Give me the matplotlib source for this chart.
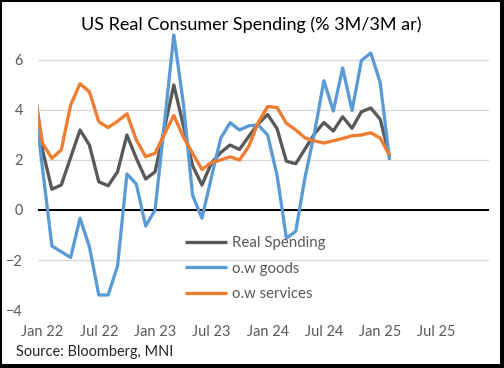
import numpy as np
import matplotlib
matplotlib.use("Agg")
import matplotlib.pyplot as plt
from matplotlib.patches import Rectangle

plt.rcParams["font.family"] = ["Lato", "DejaVu Sans"]

# monthly values, Dec 21 .. Feb 25 (Dec 21 sits just left of the axis and is clipped)
spending = [5.2, 2.4, 0.83, 1.0, 2.1, 3.2, 2.6, 1.13, 0.97, 1.53, 3.0,
            2.07, 1.24, 1.53, 3.27, 5.0, 3.4, 1.77, 1.0, 1.87, 2.3,
            2.6, 2.42, 2.95, 3.45, 3.82, 3.26, 1.95, 1.85, 2.45, 3.05,
            3.5, 3.16, 3.73, 3.27, 3.93, 4.08, 3.63, 2.13]
goods = [4.86, 1.67, -1.44, -1.67, -1.9, -0.33, -1.47, -3.4, -3.4, -2.24, 1.44,
         1.04, -0.64, 0.0, 3.47, 7.0, 4.3, 0.6, -0.33, 1.3, 2.87,
         3.49, 3.2, 3.37, 3.4, 3.0, 1.4, -1.13, -0.85, 1.33, 3.1,
         5.17, 3.96, 5.68, 3.98, 5.98, 6.28, 5.1, 2.0]
services = [5.1, 2.67, 2.07, 2.4, 4.2, 5.05, 4.73, 3.53, 3.3, 3.55, 3.85,
            2.8, 2.13, 2.27, 3.04, 3.78, 2.93, 2.27, 1.62, 1.9, 2.0,
            2.13, 2.0, 2.55, 3.5, 4.14, 4.1, 3.47, 3.2, 2.88, 2.76,
            2.68, 2.77, 2.86, 2.97, 3.0, 3.09, 2.88, 2.18]
tick_labels = ["Jan 22", "Jul 22", "Jan 23", "Jul 23",
               "Jan 24", "Jul 24", "Jan 25", "Jul 25"]

x = np.arange(len(spending)) - 1  # 0 = Jan 22

W, H = 504, 368
fig = plt.figure(figsize=(W / 72, H / 72), dpi=72)
ax = fig.add_axes([38 / W, 58 / H, (489 - 38) / W, (338 - 58) / H])

kw = dict(lw=3.3, solid_joinstyle="round", solid_capstyle="butt")
ax.plot(x, spending, color="#595959", label="Real Spending", **kw)
ax.plot(x, goods, color="#5B9BD5", label="o.w goods", **kw)
ax.plot(x, services, color="#ED7D31", label="o.w services", **kw)

ax.axhline(0, color="black", lw=2, zorder=1.5)
ax.set_xlim(-0.48, 47.6)
ax.set_ylim(-4, 7.2)
ax.set_yticks([-4, -2, 0, 2, 4, 6])
ax.set_xticks(np.arange(len(tick_labels)) * 6)
ax.set_xticklabels(tick_labels)
ax.grid(axis="y", color="#d9d9d9", lw=1.3)
ax.set_axisbelow(True)
for s in ax.spines.values():
    s.set_visible(False)
ax.tick_params(length=0, labelsize=14.5, colors="#595959")
ax.tick_params(axis="y", pad=15)
ax.tick_params(axis="x", pad=15)

ax.legend(loc="upper left", bbox_to_anchor=(185 / W, 1 - 236 / H),
          bbox_transform=fig.transFigure, frameon=False, fontsize=15,
          handlelength=2.8, handletextpad=0.3, labelspacing=0.77,
          borderpad=0, borderaxespad=0, labelcolor="#595959")

fig.text(251 / W, 1 - 25 / H, "US Real Consumer Spending (% 3M/3M ar)",
         ha="center", va="center", fontsize=18, color="black")
fig.text(16 / W, 1 - 352 / H, "Source: Bloomberg, MNI",
         ha="left", va="center", fontsize=14.5, color="#262626")

# outer frame
for r in [(0, 0, 2, H), (0, H - 2, W, 2), (W - 4, 0, 4, H), (0, 0, W, 4)]:
    fig.add_artist(Rectangle((r[0] / W, r[1] / H), r[2] / W, r[3] / H,
                             transform=fig.transFigure, color="black", lw=0))

fig.savefig("out.png", dpi=72)
